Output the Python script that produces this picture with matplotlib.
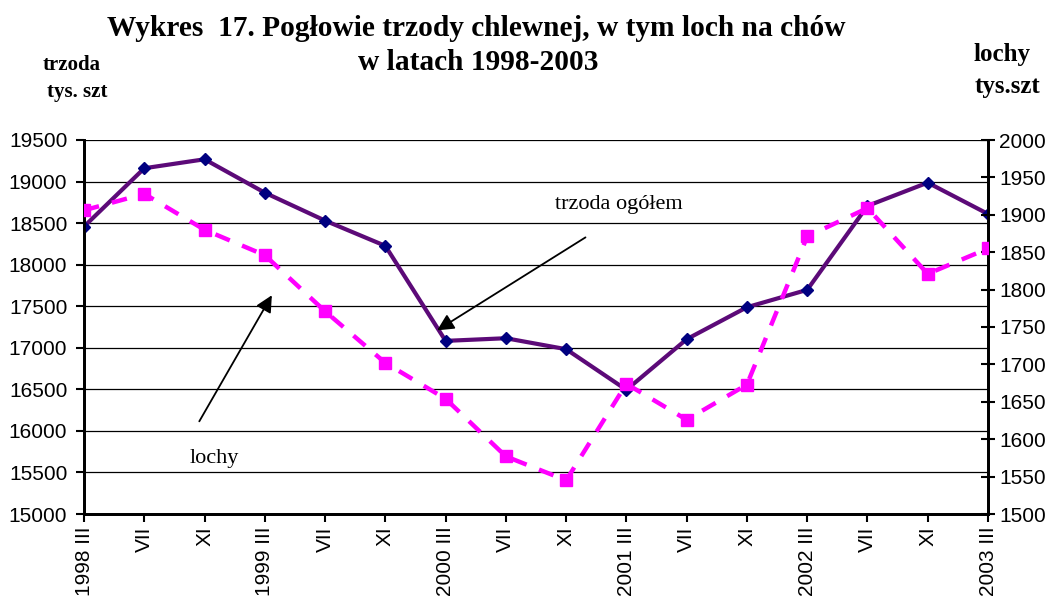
import matplotlib
matplotlib.use('Agg')
import matplotlib.pyplot as plt

# --- Dane ---
okresy = ['1998 III', 'VII', 'XI', '1999 III', 'VII', 'XI', '2000 III', 'VII', 'XI',
          '2001 III', 'VII', 'XI', '2002 III', 'VII', 'XI', '2003 III']
trzoda = [18458, 19160, 19268, 18866, 18530, 18226, 17083, 17115, 16983,
          16494, 17103, 17488, 17697, 18707, 18987, 18610]
lochy = [1906, 1928, 1880, 1846, 1771, 1702, 1654, 1577, 1545,
         1674, 1626, 1673, 1871, 1909, 1821, 1855]

sans = 'Liberation Sans'
serif = 'Liberation Serif'

fig = plt.figure(figsize=(10.53, 6.02), dpi=100)
ax = fig.add_axes([84 / 1053, 1 - 514 / 602, 904 / 1053, 374 / 602])
ax2 = ax.twinx()

x = range(len(okresy))
ax.plot(x, trzoda, color='#5c0a78', lw=3, marker='D', ms=6,
        mfc='#000080', mec='#000080', zorder=3)
ax2.plot(x, lochy, color='#ff00ff', lw=3.2, linestyle=(0, (3.5, 3)),
         marker='s', ms=8, mfc='#ff00ff', mec='#ff00ff', zorder=3)

ax.set_xlim(0, len(okresy) - 1)
ax.set_ylim(15000, 19500)
ax2.set_ylim(1500, 2000)
ax.set_yticks(range(15000, 19501, 500))
ax2.set_yticks(range(1500, 2001, 50))
ax.set_xticks(list(x))
ax.set_xticklabels(okresy, rotation=90, fontsize=15, family=sans)
for lab in ax.get_yticklabels():
    lab.set_family(sans)
    lab.set_fontsize(15)
for lab in ax2.get_yticklabels():
    lab.set_family(sans)
    lab.set_fontsize(15)

ax.grid(axis='y', color='black', lw=0.9)
ax.set_axisbelow(True)
for a in (ax, ax2):
    a.spines['top'].set_visible(False)
    for s in ('left', 'right', 'bottom'):
        a.spines[s].set_linewidth(2)
ax.tick_params(axis='both', length=6, width=1.5, pad=3)
ax.tick_params(axis='y', pad=6)
ax2.tick_params(axis='y', direction='inout', length=10, width=1.5, pad=3)

# --- Tytuly ---
fig.text(0.4525, 1 - 28 / 602, 'Wykres  17. Pogłowie trzody chlewnej, w tym loch na chów',
         ha='center', va='center', fontsize=21.2, fontweight='bold', family=serif)
fig.text(0.454, 1 - 63 / 602, 'w latach 1998-2003',
         ha='center', va='center', fontsize=21.2, fontweight='bold', family=serif)
fig.text(43 / 1053, 1 - 65 / 602, 'trzoda', ha='left', va='center',
         fontsize=15, fontweight='bold', family=serif)
fig.text(47 / 1053, 1 - 92 / 602, 'tys. szt', ha='left', va='center',
         fontsize=15, fontweight='bold', family=serif)
fig.text(973 / 1053, 1 - 55 / 602, 'lochy', ha='left', va='center',
         fontsize=18, fontweight='bold', family=serif)
fig.text(975 / 1053, 1 - 86 / 602, 'tys.szt', ha='left', va='center',
         fontsize=18, fontweight='bold', family=serif)

# --- Adnotacje ---
strzalka = dict(arrowstyle='-|>', mutation_scale=25, lw=1.3, color='black')
ax.annotate('', xy=(5.82, 17192), xytext=(8.36, 18346), arrowprops=strzalka, zorder=5)
ax.text(8.88, 18719, 'trzoda ogółem', ha='center', va='center', fontsize=16, family=serif)
ax.annotate('', xy=(3.14, 17661), xytext=(1.89, 16086), arrowprops=strzalka, zorder=5)
ax.text(2.17, 15665, 'lochy', ha='center', va='center', fontsize=16, family=serif)

fig.savefig('out.png', dpi=100)
